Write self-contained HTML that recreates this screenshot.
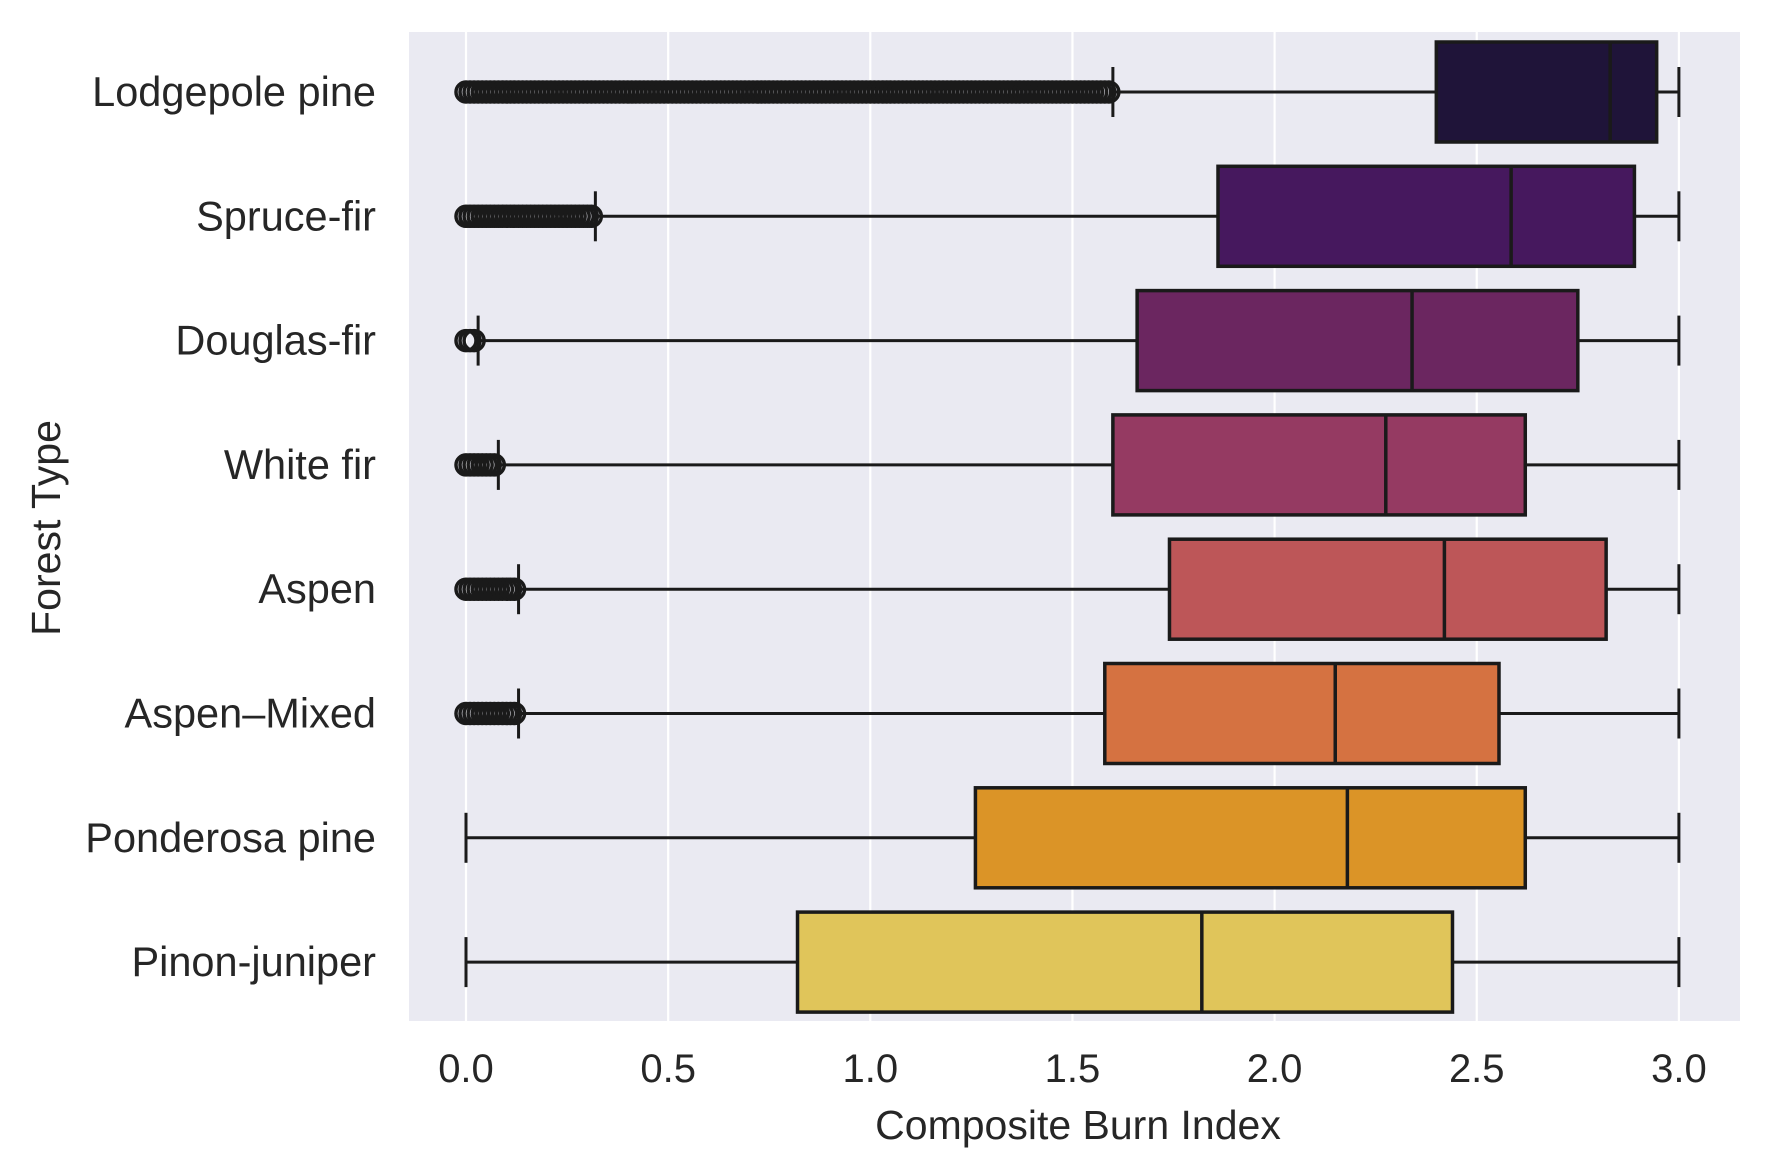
<!DOCTYPE html>
<html><head><meta charset="utf-8"><style>
html,body{margin:0;padding:0;background:#fff;}
svg{display:block;font-family:"Liberation Sans",Arial,sans-serif;}
</style></head><body>
<svg id="chart" width="1769" height="1173" xmlns="http://www.w3.org/2000/svg"></svg>
<script>
const categories = ["Lodgepole pine","Spruce-fir","Douglas-fir","White fir","Aspen","Aspen\u2013Mixed","Ponderosa pine","Pinon-juniper"];
const q1 = [2.40,1.86,1.66,1.60,1.74,1.58,1.26,0.82];
const medians = [2.83,2.585,2.34,2.275,2.42,2.15,2.18,1.82];
const q3 = [2.945,2.89,2.75,2.62,2.82,2.555,2.62,2.44];
const whiskerLow = [1.60,0.32,0.03,0.08,0.13,0.13,0.0,0.0];
const whiskerHigh = [3.0,3.0,3.0,3.0,3.0,3.0,3.0,3.0];
const outlierMin = [0.0,0.0,0.0,0.0,0.0,0.0,null,null];
const outlierMax = [1.59,0.31,0.02,0.07,0.12,0.12,null,null];
const colors = ["#1f1439","#46185e","#6b2660","#953a62","#bd5658","#d57241","#db9427","#e0c55a"];
const xTicks = [0.0,0.5,1.0,1.5,2.0,2.5,3.0];
const xTickLabels = ["0.0","0.5","1.0","1.5","2.0","2.5","3.0"];

const NS="http://www.w3.org/2000/svg";
const svg=document.getElementById('chart');
const L=409,R=1740,T=32,B=1021;
const xs=v=>466+v*404.3;
const ys=i=>92+i*124.3;
function mk(tag,attrs,parent){const e=document.createElementNS(NS,tag);for(const k in attrs)e.setAttribute(k,attrs[k]);(parent||svg).appendChild(e);return e;}

const bg=mk('rect',{x:L,y:T,width:R-L,height:B-T,fill:'#eaeaf2'});


const grid=mk('g',{});


xTicks.forEach((t,i)=>{
  mk('line',{x1:xs(t),x2:xs(t),y1:T,y2:B,stroke:'#fff','stroke-width':2.2},grid);
  const lab=mk('text',{x:xs(t),y:1082,'text-anchor':'middle','font-size':40,fill:'#262626'});
  lab.textContent=xTickLabels[i];
  
  
});
const lc='#1a1a1a';
categories.forEach((c,i)=>{
  const y=ys(i),h=50;
  const g=mk('g',{});
  
  
  mk('line',{x1:xs(whiskerLow[i]),x2:xs(q1[i]),y1:y,y2:y,stroke:lc,'stroke-width':3},g);
  mk('line',{x1:xs(q3[i]),x2:xs(whiskerHigh[i]),y1:y,y2:y,stroke:lc,'stroke-width':3},g);
  mk('line',{x1:xs(whiskerLow[i]),x2:xs(whiskerLow[i]),y1:y-25,y2:y+25,stroke:lc,'stroke-width':3},g);
  mk('line',{x1:xs(whiskerHigh[i]),x2:xs(whiskerHigh[i]),y1:y-25,y2:y+25,stroke:lc,'stroke-width':3},g);
  mk('rect',{x:xs(q1[i]),y:y-h,width:xs(q3[i])-xs(q1[i]),height:2*h,fill:colors[i],stroke:lc,'stroke-width':3.5},g);
  mk('line',{x1:xs(medians[i]),x2:xs(medians[i]),y1:y-h,y2:y+h,stroke:lc,'stroke-width':3.5},g);
  if(outlierMin[i]!==null){
    const og=mk('g',{},g);
    
    
    for(let v=outlierMin[i];v<=outlierMax[i]+1e-9;v+=0.01){
      mk('circle',{cx:xs(v),cy:y,r:10,fill:'none',stroke:lc,'stroke-width':3.5},og);
    }
  }
  const lab=mk('text',{x:376,y:y+14,'text-anchor':'end','font-size':41.5,fill:'#262626'});
  lab.textContent=c;
  
  
});
const xt=mk('text',{x:1078,y:1139,'text-anchor':'middle','font-size':41,fill:'#262626'});
xt.textContent='Composite Burn Index';


const yt=mk('text',{x:0,y:0,transform:'translate(60,528) rotate(-90)','text-anchor':'middle','font-size':41,fill:'#262626'});
yt.textContent='Forest Type';


</script>
</body></html>
